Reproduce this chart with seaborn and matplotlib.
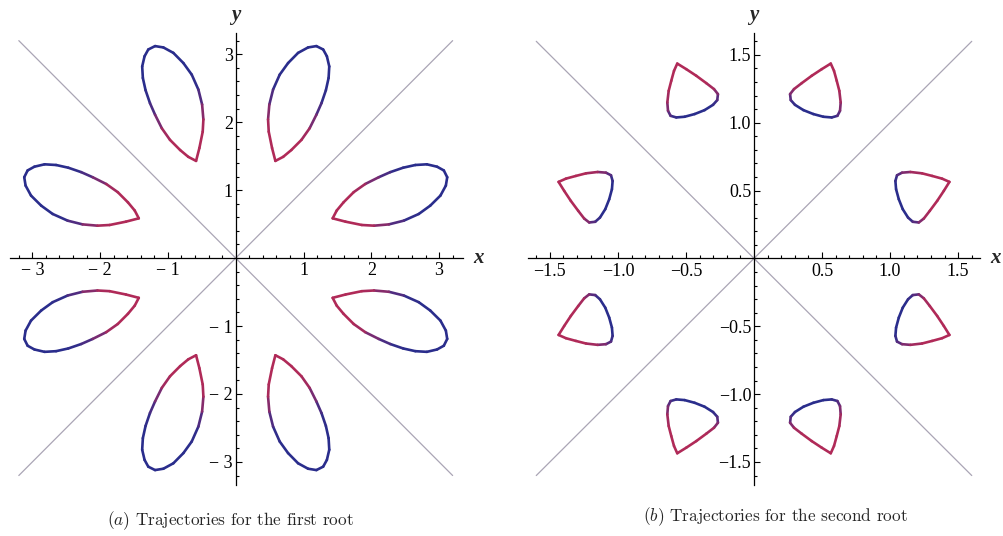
import numpy as np
import pandas as pd
import seaborn as sns
import matplotlib.pyplot as plt
from matplotlib.colors import LinearSegmentedColormap
from matplotlib.ticker import FixedLocator, MultipleLocator

# one loop of each root (first quadrant, above y = x); c: 0 = blue, 1 = red
leaf_x = [0.585, 0.536, 0.487, 0.477, 0.496, 0.551, 0.649, 0.772, 0.920, 1.067, 1.190,
          1.290, 1.345, 1.380, 1.370, 1.330, 1.265, 1.190, 1.090, 0.970, 0.820, 0.700]
leaf_y = [1.43, 1.62, 1.86, 2.04, 2.26, 2.48, 2.70, 2.87, 3.02, 3.10, 3.12,
          3.07, 2.97, 2.82, 2.65, 2.47, 2.28, 2.11, 1.91, 1.74, 1.59, 1.49]
leaf_c = [1, 1, 1, 0.9, 0.5, 0.1, 0, 0, 0, 0, 0,
          0, 0, 0, 0, 0, 0.1, 0.4, 0.8, 1, 1, 1]

tri_x = [0.564, 0.498, 0.424, 0.351, 0.294, 0.265, 0.270, 0.301, 0.363, 0.436, 0.510,
         0.571, 0.613, 0.632, 0.637, 0.627, 0.608, 0.588]
tri_y = [1.436, 1.395, 1.346, 1.292, 1.248, 1.211, 1.167, 1.132, 1.093, 1.064, 1.044,
         1.039, 1.051, 1.088, 1.149, 1.235, 1.309, 1.382]
tri_c = [1, 1, 1, 1, 0.85, 0.5, 0.2, 0, 0, 0, 0,
         0, 0.2, 0.5, 0.8, 1, 1, 1]

ticks_a = [-3, -2, -1, 1, 2, 3]
tick_labels_a = ["\u2212 3", "\u2212 2", "\u2212 1", "1", "2", "3"]
ticks_b = [-1.5, -1.0, -0.5, 0.5, 1.0, 1.5]
tick_labels_b = ["\u22121.5", "\u22121.0", "\u22120.5", "0.5", "1.0", "1.5"]
diag_a = [-3.2, 3.2]
diag_b = [-1.6, 1.6]
captions = [r"$(a)$ Trajectories for the first root",
            r"$(b)$ Trajectories for the second root"]

sns.set_style("white")
plt.rcParams["font.family"] = ["Liberation Serif", "DejaVu Serif"]
plt.rcParams["mathtext.fontset"] = "cm"

cmap = LinearSegmentedColormap.from_list("traj", ["#2a2d8c", "#6a2c78", "#b02a58"])


def eight_copies(xs, ys, cs):
    # the 8 loops are the images of one loop under the square's symmetries
    rows = []
    seg = 0
    n = len(xs)
    for swap in (False, True):
        px, py = (ys, xs) if swap else (xs, ys)
        for sx in (1, -1):
            for sy in (1, -1):
                for i in range(n):
                    j = (i + 1) % n
                    c = (cs[i] + cs[j]) / 2
                    rows.append((seg, sx * px[i], sy * py[i], c))
                    rows.append((seg, sx * px[j], sy * py[j], c))
                    seg += 1
    return pd.DataFrame(rows, columns=["seg", "x", "y", "c"])


def panel(ax, df, diag, ticks, labels, minor, xlim, ylim):
    ax.plot(diag, diag, color="#aaa5b5", lw=0.9)
    ax.plot(diag, diag[::-1], color="#aaa5b5", lw=0.9)
    sns.lineplot(data=df, x="x", y="y", hue="c", units="seg", estimator=None,
                 sort=False, palette=cmap, hue_norm=(0, 1), legend=False,
                 lw=1.9, solid_capstyle="round", ax=ax)
    ax.set_xlim(xlim)
    ax.set_ylim(ylim)
    for s in ["top", "right"]:
        ax.spines[s].set_visible(False)
    for s in ["left", "bottom"]:
        ax.spines[s].set_position(("data", 0))
        ax.spines[s].set_linewidth(0.9)
        ax.spines[s].set_color("black")
    ax.xaxis.set_major_locator(FixedLocator(ticks))
    ax.yaxis.set_major_locator(FixedLocator(ticks))
    ax.set_xticklabels(labels)
    ax.set_yticklabels(labels)
    ax.xaxis.set_minor_locator(MultipleLocator(minor))
    ax.yaxis.set_minor_locator(MultipleLocator(minor))
    ax.tick_params(which="both", bottom=True, left=True, top=False, right=False,
                   direction="in", width=0.8, colors="black", labelsize=13)
    ax.tick_params(which="major", length=4)
    ax.tick_params(which="minor", length=2)
    ax.tick_params(axis="x", pad=3)
    ax.tick_params(axis="y", pad=2)
    ax.set_xlabel("")
    ax.set_ylabel("")
    lx = xlim[1] + (xlim[1] - xlim[0]) * 0.034
    ly = ylim[1] + (ylim[1] - ylim[0]) * 0.04
    ax.text(lx, 0, "x", fontsize=15, style="italic", weight="bold",
            ha="center", va="center", clip_on=False)
    ax.text(0, ly, "y", fontsize=15, style="italic", weight="bold",
            ha="center", va="center", clip_on=False)


fig = plt.figure(figsize=(10.04, 5.36), dpi=100)
ax1 = fig.add_axes([0.00996, 0.0951, 0.451, 0.843])
ax2 = fig.add_axes([0.526, 0.0951, 0.450, 0.843])
for a in (ax1, ax2):
    a.set_facecolor("white")

panel(ax1, eight_copies(leaf_x, leaf_y, leaf_c), diag_a, ticks_a, tick_labels_a,
      0.2, (-3.33, 3.35), (-3.34, 3.31))
panel(ax2, eight_copies(tri_x, tri_y, tri_c), diag_b, ticks_b, tick_labels_b,
      0.1, (-1.66, 1.66), (-1.67, 1.66))

fig.text(230 / 1004, 1 - 521 / 536, captions[0], family="cmr10", fontsize=12.4,
         ha="center", va="center")
fig.text(775 / 1004, 1 - 517 / 536, captions[1], family="cmr10", fontsize=12.4,
         ha="center", va="center")

fig.savefig("out.png", dpi=100, facecolor="white")
